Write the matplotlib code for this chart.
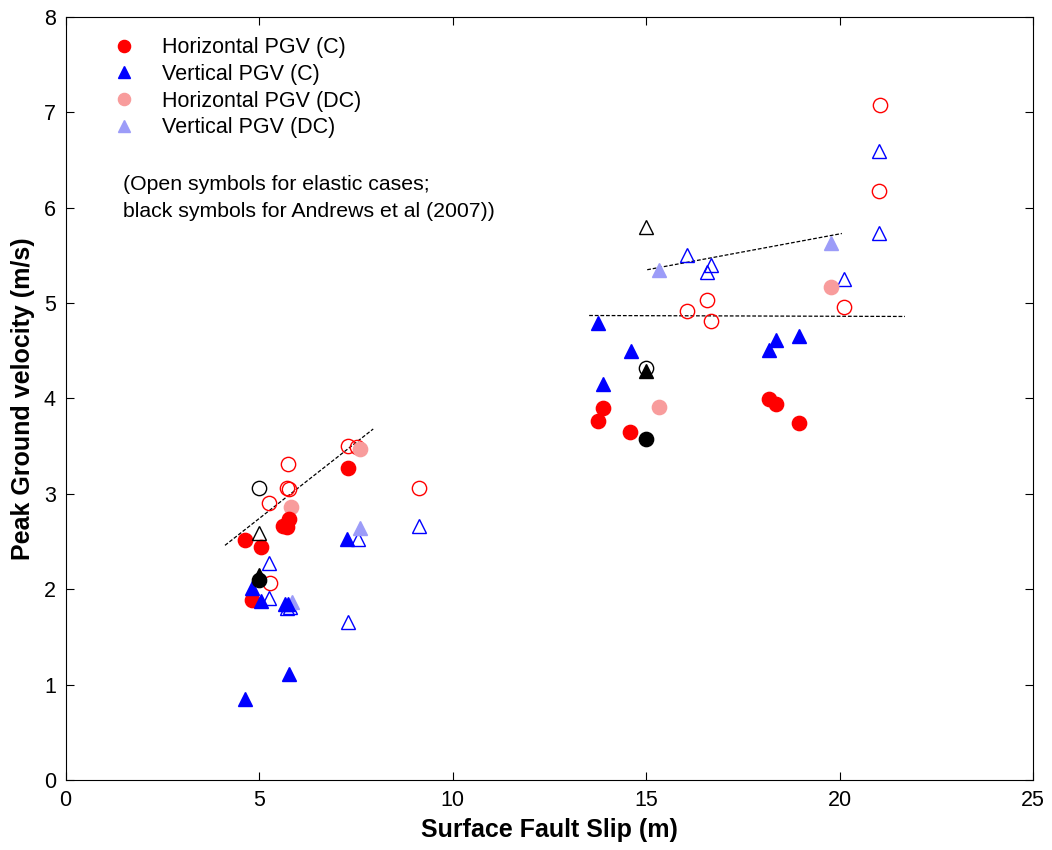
import matplotlib
matplotlib.use("Agg")
import matplotlib.pyplot as plt

plt.rcParams['font.family'] = ['Liberation Sans', 'DejaVu Sans']

# ---- data (surface fault slip x, PGV y) ----
hC_x = [4.64, 5.05, 5.78, 5.62, 5.72, 7.30, 4.82, 13.89, 13.76, 14.59, 18.18, 18.36, 18.95]
hC_y = [2.52, 2.44, 2.74, 2.66, 2.65, 3.27, 1.89, 3.90, 3.76, 3.65, 3.99, 3.94, 3.74]

vC_x = [4.82, 5.05, 5.67, 5.75, 7.27, 5.78, 4.64, 13.76, 14.61, 13.89, 18.36, 18.18, 18.95]
vC_y = [2.01, 1.88, 1.84, 1.85, 2.53, 1.11, 0.85, 4.79, 4.50, 4.15, 4.61, 4.51, 4.66]

hDC_x = [5.83, 7.61, 19.78, 15.34]
hDC_y = [2.86, 3.47, 5.17, 3.91]

vDC_x = [7.61, 5.85, 15.34, 19.78]
vDC_y = [2.64, 1.87, 5.35, 5.63]

hE_x = [5.75, 5.72, 5.78, 5.26, 5.28, 7.30, 7.53, 9.13, 21.05, 21.02, 20.12, 16.58, 16.06, 16.68]
hE_y = [3.31, 3.06, 3.05, 2.90, 2.06, 3.50, 3.49, 3.06, 7.08, 6.18, 4.96, 5.03, 4.92, 4.81]

vE_x = [5.26, 5.26, 7.56, 9.13, 7.30, 5.72, 5.80, 16.06, 16.68, 16.58, 21.02, 21.02, 20.12]
vE_y = [2.28, 1.91, 2.53, 2.66, 1.66, 1.80, 1.81, 5.50, 5.40, 5.33, 6.59, 5.74, 5.25]

# Andrews et al (2007) - black symbols
aOC_x = [5.0, 15.0]   # open circles
aOC_y = [3.06, 4.32]
aOT_x = [5.0, 15.0]   # open triangles
aOT_y = [2.59, 5.80]
aFC_x = [5.0, 15.0]   # filled circles
aFC_y = [2.10, 3.58]
aFT_x = [5.0, 15.0]   # filled triangles
aFT_y = [2.15, 4.29]

# dashed trend lines
line1_x = [4.12, 7.95]
line1_y = [2.46, 3.68]
line2_x = [13.53, 21.69]
line2_y = [4.87, 4.86]
line3_x = [15.03, 20.06]
line3_y = [5.35, 5.73]

xticks = [0, 5, 10, 15, 20, 25]
yticks = [0, 1, 2, 3, 4, 5, 6, 7, 8]

RED = '#ff0000'
BLUE = '#0000ff'
PINK = '#f89c9c'
LBLUE = '#9c9cf8'

fig = plt.figure(figsize=(10.52, 8.5), dpi=100)
ax = fig.add_axes([0.0623, 0.0824, 0.9197, 0.8976])

ms = 10.3
for lx, ly in [(line1_x, line1_y), (line2_x, line2_y), (line3_x, line3_y)]:
    ax.plot(lx, ly, linestyle=(0, (3, 1.5)), color='black', lw=0.9, zorder=1)

ax.plot(hE_x, hE_y, 'o', ms=ms, mfc='none', mec=RED, mew=1.0, ls='none', zorder=2)
ax.plot(vE_x, vE_y, '^', ms=ms, mfc='none', mec=BLUE, mew=1.0, ls='none', zorder=2)
ax.plot(hDC_x, hDC_y, 'o', ms=ms, color=PINK, ls='none', zorder=3, label='Horizontal PGV (DC)')
ax.plot(vDC_x, vDC_y, '^', ms=ms, color=LBLUE, ls='none', zorder=3, label='Vertical PGV (DC)')
ax.plot(hC_x, hC_y, 'o', ms=ms, color=RED, ls='none', zorder=4, label='Horizontal PGV (C)')
ax.plot(vC_x, vC_y, '^', ms=ms, color=BLUE, ls='none', zorder=4, label='Vertical PGV (C)')
ax.plot(aOC_x, aOC_y, 'o', ms=ms, mfc='none', mec='black', mew=1.0, ls='none', zorder=5)
ax.plot(aOT_x, aOT_y, '^', ms=ms, mfc='none', mec='black', mew=1.0, ls='none', zorder=5)
ax.plot(aFC_x, aFC_y, 'o', ms=ms, color='black', ls='none', zorder=5)
ax.plot(aFT_x, aFT_y, '^', ms=ms, color='black', ls='none', zorder=6)

handles, labels = ax.get_legend_handles_labels()
order = [labels.index(l) for l in ['Horizontal PGV (C)', 'Vertical PGV (C)',
                                    'Horizontal PGV (DC)', 'Vertical PGV (DC)']]
leg = ax.legend([handles[i] for i in order], [labels[i] for i in order],
                loc='upper left', bbox_to_anchor=(0.042, 0.985), frameon=False,
                fontsize=15.5, handlelength=0.9, handletextpad=1.3,
                labelspacing=0.27, markerscale=0.85, borderaxespad=0)

ax.text(0.059, 0.793, '(Open symbols for elastic cases;\nblack symbols for Andrews et al (2007))',
        transform=ax.transAxes, fontsize=15.3, va='top', ha='left', linespacing=1.55)

ax.set_xlim(0, 25)
ax.set_ylim(0, 8)
ax.set_xticks(xticks)
ax.set_yticks(yticks)
ax.tick_params(direction='in', top=True, right=True, length=6, width=0.8,
               labelsize=15.5, pad=7)
for s in ax.spines.values():
    s.set_linewidth(0.8)
ax.set_xlabel('Surface Fault Slip (m)', fontsize=18, fontweight='bold', labelpad=5)
ax.set_ylabel('Peak Ground velocity (m/s)', fontsize=18, fontweight='bold', labelpad=6)

fig.savefig('out.png', dpi=100)
